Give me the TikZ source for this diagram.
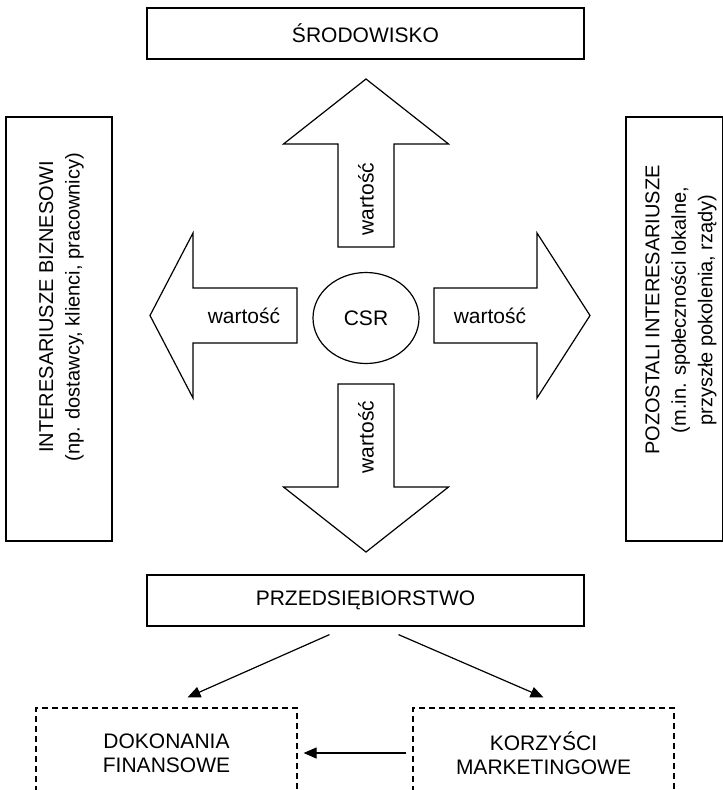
\documentclass[tikz,border=0pt]{standalone}
\usepackage{fontspec}
\setmainfont{Liberation Sans}
\usetikzlibrary{arrows.meta,shapes.geometric}

\begin{document}
\begin{tikzpicture}[x=1pt,y=-1pt,font=\fontsize{21}{24}\selectfont,
  box/.style={draw,line width=1.2pt,inner sep=0pt},
  dbox/.style={box,dash pattern=on 6pt off 4pt,align=center},
  bigarr/.style={draw,line width=1.2pt,line join=miter},
  conn/.style={line width=1.2pt,-{Triangle[length=13pt,width=11pt]}},
  side/.style={rotate=90,align=center,font=\fontsize{20}{26.5}\selectfont}]
 \useasboundingbox (0,0) rectangle (723,790);
 \clip (0,0) rectangle (723,790);
 \node[box,minimum width=437pt,minimum height=51pt] (sro) at (365.5,33.5) {ŚRODOWISKO};
 \node[box,minimum width=437pt,minimum height=51pt] (firma) at (365.5,600.5) {PRZEDSIĘBIORSTWO};
 \node[box,minimum width=106pt,minimum height=424pt] (biz) at (59,329) {};
 \node[side] (bizt) at (61.5,307) {INTERESARIUSZE BIZNESOWI\\(np. dostawcy, klienci, pracownicy)};
 \node[box,minimum width=97pt,minimum height=424pt] (poz) at (674.5,329) {};
 \node[side] (pozt) at (681,310) {POZOSTALI INTERESARIUSZE\\(m.in. społeczności lokalne,\\przyszłe pokolenia, rządy)};
 % strzalki wartosci
 \draw[bigarr] (366,79)--(448.5,144)--(394,144)--(394,247)--(338,247)--(338,144)--(283.5,144)--cycle;
 \draw[bigarr] (366,552)--(448.5,487)--(394,487)--(394,384)--(338,384)--(338,487)--(283.5,487)--cycle;
 \draw[bigarr] (150,315.5)--(193,233)--(193,288)--(297,288)--(297,343)--(193,343)--(193,398)--cycle;
 \draw[bigarr] (590,315.5)--(537,233)--(537,288)--(434,288)--(434,343)--(537,343)--(537,398)--cycle;
 \node[rotate=90] (w1) at (366,199) {wartość};
 \node[rotate=90] (w2) at (366,437) {wartość};
 \node (w3) at (244,315.5) {wartość};
 \node (w4) at (490,315.5) {wartość};
 \node[ellipse,draw,line width=1.2pt,inner sep=0pt,minimum width=106pt,minimum height=91pt] (csr) at (366,318) {CSR};
 \node[dbox,minimum width=261pt,minimum height=90pt] (dok) at (166.5,753) {DOKONANIA\\FINANSOWE};
 \node[dbox,minimum width=261pt,minimum height=90pt] (kor) at (543.5,753) {KORZYŚCI\\MARKETINGOWE};
 \draw[conn] ([xshift=-36pt,yshift=-8pt]firma.south) -- ([xshift=21pt,yshift=10pt]dok.north);
 \draw[conn] ([xshift=33pt,yshift=-8pt]firma.south) -- ([yshift=10pt]kor.north);
 \draw[conn] ([xshift=-6pt]kor.west) -- ([xshift=6pt]dok.east);
\end{tikzpicture}
\end{document}
